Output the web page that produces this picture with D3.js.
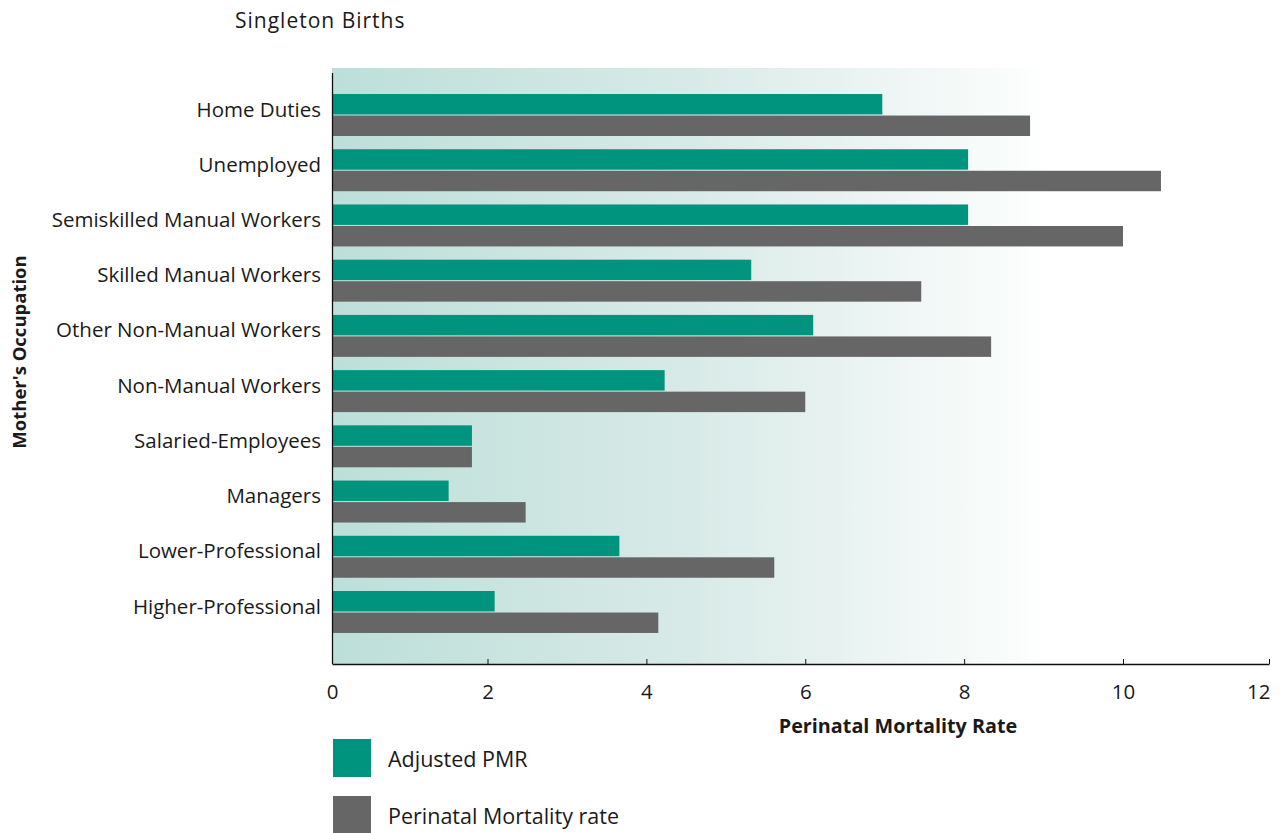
<!DOCTYPE html>
<html>
<head>
<meta charset="utf-8">
<script src="https://cdn.jsdelivr.net/npm/d3@7"></script>
<style>
  body { margin: 0; background: #fff; }
  text { font-family: "Open Sans", "Noto Sans", sans-serif; fill: #1a1a1a; }
</style>
</head>
<body>
<script>
// data
const occupations = ["Home Duties", "Unemployed", "Semiskilled Manual Workers", "Skilled Manual Workers",
  "Other Non-Manual Workers", "Non-Manual Workers", "Salaried-Employees", "Managers",
  "Lower-Professional", "Higher-Professional"];
const adjustedPMR = [6.97, 8.05, 8.05, 5.32, 6.10, 4.23, 1.80, 1.50, 3.66, 2.09];
const perinatalRate = [8.83, 10.52, 10.0, 7.46, 8.34, 6.0, 1.80, 2.48, 5.61, 4.15];
const seriesNames = ["Adjusted PMR", "Perinatal Mortality rate"];
const seriesColors = ["#00937d", "#666666"];
const xTicks = [0, 2, 4, 6, 8, 10, 12];

const body = d3.select("body");

const svg = body.append("svg")
  .attr("width", 1281)
  .attr("height", 833);

// the printed axis is not quite even, so follow its tick positions
const x = d3.scaleLinear()
  .domain([0, 2, 10, 12])
  .range([332, 487.5, 1123, 1269]);

const y = d3.scaleBand()
  .domain(occupations)
  .range([87.4, 639.6])
  .paddingInner(0.24)
  .paddingOuter(0.12);

const ySub = d3.scaleBand()
  .domain(seriesNames)
  .range([0, y.bandwidth()])
  .paddingInner(0.05);

const rows = occupations.map((name, i) => ({ name, values: [adjustedPMR[i], perinatalRate[i]] }));

// background gradient
const grad = svg.append("defs").append("linearGradient")
  .attr("id", "bg")
  .attr("gradientUnits", "userSpaceOnUse")
  .attr("x1", 332).attr("x2", 1055).attr("y1", 0).attr("y2", 0);
grad.append("stop").attr("offset", 0).attr("stop-color", "#bddfd9");
grad.append("stop").attr("offset", 0.5).attr("stop-color", "#d8eae7");
grad.append("stop").attr("offset", 1).attr("stop-color", "#ffffff");

svg.append("rect")
  .attr("x", 332).attr("y", 68)
  .attr("width", 1269 - 332).attr("height", 664 - 68)
  .attr("fill", "url(#bg)");

// bars
const groups = svg.selectAll(".row")
  .data(rows)
  .join("g")
  .attr("class", "row")
  .attr("transform", d => `translate(0,${y(d.name)})`);

groups.selectAll("rect")
  .data(d => d.values.map((v, j) => ({ v, s: seriesNames[j], c: seriesColors[j] })))
  .join("rect")
  .attr("x", x(0))
  .attr("y", d => ySub(d.s))
  .attr("height", ySub.bandwidth())
  .attr("width", d => x(d.v) - x(0))
  .attr("fill", d => d.c);

// category labels
svg.selectAll(".cat")
  .data(occupations)
  .join("text")
  .attr("class", "cat")
  .attr("x", 321)
  .attr("y", d => y(d) + 22.5)
  .attr("text-anchor", "end")
  .style("font-size", "20.5px")
  .text(d => d);

// y axis line
svg.append("line")
  .attr("x1", 332.5).attr("x2", 332.5)
  .attr("y1", 73).attr("y2", 664)
  .attr("stroke", "#111").attr("stroke-width", 1.3);

// x axis with ticks pointing up
const xAxis = svg.append("g")
  .attr("transform", "translate(0,664)")
  .call(d3.axisBottom(x).tickValues(xTicks).tickSizeInner(-5).tickSizeOuter(0).tickPadding(0));
xAxis.select(".domain").attr("stroke", "#111").attr("stroke-width", 1.3);
xAxis.selectAll(".tick line").attr("stroke", "#111");
xAxis.selectAll(".tick text")
  .attr("y", 35)
  .attr("dy", 0)
  .style("font-size", "20.5px")
  .style("font-family", "'Open Sans', sans-serif")
  .attr("fill", "#1a1a1a")
  .attr("text-anchor", d => d === 12 ? "end" : "middle")
  .attr("dx", d => d === 12 ? 1 : 0);

// axis titles
svg.append("text")
  .attr("x", 898).attr("y", 733)
  .attr("text-anchor", "middle")
  .style("font-size", "19.8px")
  .style("font-weight", "bold")
  .text("Perinatal Mortality Rate");

svg.append("text")
  .attr("transform", "translate(26,352) rotate(-90)")
  .attr("text-anchor", "middle")
  .style("font-size", "18.5px")
  .style("font-weight", "bold")
  .text("Mother's Occupation");

// title
svg.append("text")
  .attr("x", 235).attr("y", 28)
  .style("font-size", "21px")
  .style("letter-spacing", "1px")
  .attr("fill", "#222")
  .text("Singleton Births");

// legend
const legend = svg.selectAll(".legend")
  .data(seriesNames)
  .join("g")
  .attr("class", "legend")
  .attr("transform", (d, i) => `translate(333,${739 + i * 57})`);

legend.append("rect")
  .attr("width", 38).attr("height", 38)
  .attr("fill", (d, i) => seriesColors[i]);

legend.append("text")
  .attr("x", 55).attr("y", 28)
  .style("font-size", "21.5px")
  .text(d => d);
</script>
</body>
</html>
